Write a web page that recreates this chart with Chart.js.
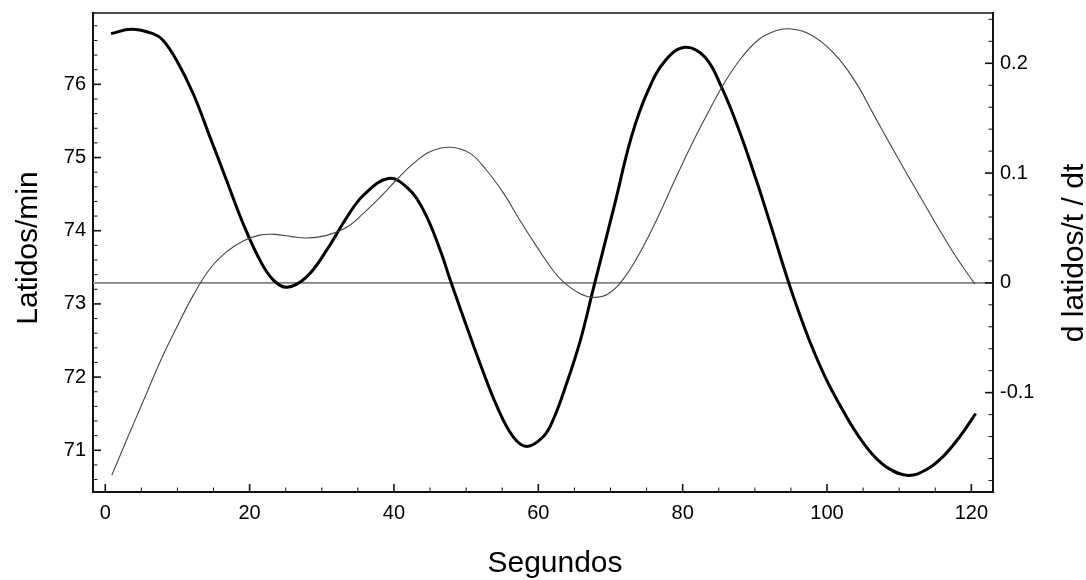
<!DOCTYPE html>
<html>
<head>
<meta charset="utf-8">
<script src="https://cdn.jsdelivr.net/npm/chart.js@4.4.1/dist/chart.umd.min.js"></script>
<style>
  body { margin: 0; background: #fff; }
  #wrap { width: 1086px; height: 580px; }
</style>
</head>
<body>
<div id="wrap"><canvas id="hrChart" width="1086" height="580"></canvas></div>
<script>
// Frecuencia cardiaca (eje izquierdo)
const segundosLat = [0.9, 3.0, 5.3, 7.6, 9.9, 12.2, 14.5, 16.8, 19.1, 21.4, 23.5, 25.8, 27.9, 30.8, 33.5, 35.8, 38.1,
  40.4, 42.7, 45.0, 47.8, 50.5, 52.8, 55.2, 57.4, 59.8, 62.1, 63.6, 65.6, 67.6, 69.7, 72.0, 74.3, 76.6, 78.9,
  81.3, 83.6, 85.9, 88.2, 90.5, 92.8, 94.7, 97.1, 99.5, 101.8, 104.1, 106.4, 108.7, 111.0, 113.3, 115.6, 117.9, 120.5];
const latidos = [70.66, 71.15, 71.68, 72.21, 72.68, 73.12, 73.48, 73.71, 73.86, 73.94, 73.95, 73.92, 73.90, 73.94, 74.05, 74.24, 74.46,
  74.70, 74.92, 75.08, 75.14, 75.06, 74.83, 74.51, 74.15, 73.78, 73.45, 73.29, 73.15, 73.09, 73.14, 73.37, 73.74, 74.19, 74.69,
  75.19, 75.63, 76.04, 76.37, 76.61, 76.73, 76.76, 76.71, 76.56, 76.33, 76.01, 75.60, 75.19, 74.79, 74.40, 74.01, 73.64, 73.27];

// Derivada (eje derecho)
const segundosDer = [0.8, 3.6, 6.6, 8.0, 9.9, 12.2, 14.5, 16.8, 19.1, 21.4, 23.3, 25.2, 27.9, 30.7, 33.5, 35.8, 39.2,
  41.8, 44.1, 46.4, 47.8, 49.6, 51.9, 54.3, 56.5, 58.4, 60.7, 62.1, 63.9, 65.8, 67.6, 70.6, 72.9, 75.2, 77.6, 80.3,
  83.1, 85.4, 87.7, 90.2, 92.1, 94.7, 96.2, 97.9, 99.8, 101.8, 104.1, 106.4, 108.7, 111.3, 113.8, 116.1, 118.4, 120.6];
const derivada = [0.227, 0.231, 0.227, 0.221, 0.2025, 0.172, 0.133, 0.0935, 0.054, 0.021, 0.0025, -0.004, 0.0055, 0.030, 0.060, 0.080, 0.095,
  0.087, 0.066, 0.030, 0.0025, -0.031, -0.073, -0.113, -0.140, -0.149, -0.140, -0.124, -0.092, -0.053, -0.006, 0.072, 0.133, 0.175, 0.2025, 0.2146,
  0.2055, 0.178, 0.141, 0.0936, 0.0546, 0.0, -0.0285, -0.058, -0.0865, -0.1115, -0.137, -0.157, -0.1697, -0.1754, -0.170, -0.158, -0.140, -0.119];

// Marcas de los ejes
const xTicks = [0, 20, 40, 60, 80, 100, 120];
const yTicks = [71, 72, 73, 74, 75, 76];
const y2Ticks = [-0.1, 0, 0.1, 0.2];
const xMinor = 5, yMinor = 0.2, y2Minor = 0.02;

const FONT = "'Liberation Sans', Arial, Helvetica, sans-serif";

function toPoints(xs, ys) {
  return xs.map((x, i) => ({ x: x, y: ys[i] }));
}

// keep the plot box where the reference has it
function noScalePadding(scale) {
  scale.paddingTop = 0;
  scale.paddingBottom = 0;
  scale.paddingLeft = 0;
  scale.paddingRight = 0;
}

// inward tick marks, zero line, frame and axis titles
const decorPlugin = {
  id: 'decor',
  beforeDatasetsDraw: (chart) => {
    const { ctx, chartArea: { left, right }, scales } = chart;
    const y0 = scales.y2.getPixelForValue(0);
    ctx.save();
    ctx.strokeStyle = '#808080';
    ctx.lineWidth = 1.6;
    ctx.beginPath();
    ctx.moveTo(left, y0);
    ctx.lineTo(right, y0);
    ctx.stroke();
    ctx.restore();
  },
  afterDraw: (chart) => {
    const { ctx, chartArea: { left, right, top, bottom }, scales } = chart;
    ctx.save();
    ctx.strokeStyle = '#111';

    const marks = (scale, step, majors, draw) => {
      const lo = Math.ceil(scale.min / step - 1e-6);
      const hi = Math.floor(scale.max / step + 1e-6);
      for (let k = lo; k <= hi; k++) {
        const v = k * step;
        const isMajor = majors.some(m => Math.abs(m - v) < step / 10);
        draw(scale.getPixelForValue(v), isMajor);
      }
    };
    // bottom
    marks(scales.x, xMinor, xTicks, (p, major) => {
      ctx.lineWidth = major ? 1.6 : 1;
      ctx.beginPath();
      ctx.moveTo(p, bottom);
      ctx.lineTo(p, bottom - (major ? 8 : 4.5));
      ctx.stroke();
    });
    // left
    marks(scales.y, yMinor, yTicks, (p, major) => {
      ctx.lineWidth = major ? 1.6 : 1;
      ctx.beginPath();
      ctx.moveTo(left, p);
      ctx.lineTo(left + (major ? 8 : 4.5), p);
      ctx.stroke();
    });
    // right
    marks(scales.y2, y2Minor, y2Ticks, (p, major) => {
      ctx.lineWidth = major ? 1.6 : 1;
      ctx.beginPath();
      ctx.moveTo(right, p);
      ctx.lineTo(right - (major ? 8 : 4.5), p);
      ctx.stroke();
    });

    // top frame line
    ctx.lineWidth = 1.5;
    ctx.beginPath();
    ctx.moveTo(left, top);
    ctx.lineTo(right, top);
    ctx.stroke();

    // axis titles
    ctx.fillStyle = '#000';
    ctx.font = `30px ${FONT}`;
    ctx.textAlign = 'center';
    ctx.textBaseline = 'alphabetic';
    ctx.fillText('Segundos', 555, 572);

    ctx.save();
    ctx.translate(37, 248);
    ctx.rotate(-Math.PI / 2);
    ctx.fillText('Latidos/min', 0, 0);
    ctx.restore();

    ctx.save();
    ctx.translate(1083, 253);
    ctx.rotate(-Math.PI / 2);
    ctx.fillText('d latidos/t / dt', 0, 0);
    ctx.restore();

    ctx.restore();
  }
};

const tickFont = { family: FONT, size: 20 };

const ctx = document.getElementById('hrChart').getContext('2d');
const hrChart = new Chart(ctx, {
  type: 'line',
  data: {
    datasets: [{
      label: 'Latidos/min',
      data: toPoints(segundosLat, latidos),
      yAxisID: 'y',
      borderColor: '#454545',
      borderWidth: 1.1,
      pointRadius: 0,
      tension: 0.4,
      fill: false
    }, {
      label: 'd latidos/t / dt',
      data: toPoints(segundosDer, derivada),
      yAxisID: 'y2',
      borderColor: '#000',
      borderWidth: 3,
      pointRadius: 0,
      tension: 0.4,
      fill: false
    }]
  },
  options: {
    responsive: false,
    devicePixelRatio: 1,
    animation: false,
    events: [],
    layout: { padding: { top: 13, left: 0, right: 0, bottom: 0 } },
    plugins: {
      legend: { display: false },
      tooltip: { enabled: false }
    },
    scales: {
      x: {
        type: 'linear',
        min: -1.7,
        max: 123.0,
        afterBuildTicks: (scale) => { scale.ticks = xTicks.map(v => ({ value: v })); },
        afterFit: (scale) => { scale.height = 88; noScalePadding(scale); },
        grid: { display: false, drawTicks: false },
        border: { display: true, color: '#111', width: 2 },
        ticks: { font: tickFont, color: '#000', padding: 9, maxRotation: 0, autoSkip: false }
      },
      y: {
        position: 'left',
        min: 70.43,
        max: 76.975,
        afterBuildTicks: (scale) => { scale.ticks = yTicks.map(v => ({ value: v })); },
        afterFit: (scale) => { scale.width = 93; noScalePadding(scale); },
        grid: { display: false, drawTicks: false },
        border: { display: true, color: '#111', width: 2 },
        ticks: { font: tickFont, color: '#000', padding: 7 }
      },
      y2: {
        position: 'right',
        min: -0.1905,
        max: 0.2458,
        afterBuildTicks: (scale) => { scale.ticks = y2Ticks.map(v => ({ value: v })); },
        afterFit: (scale) => { scale.width = 93; noScalePadding(scale); },
        grid: { display: false, drawTicks: false },
        border: { display: true, color: '#111', width: 2 },
        ticks: {
          font: tickFont, color: '#000', padding: 7,
          callback: (v) => String(Math.round(v * 10) / 10)
        }
      }
    }
  },
  plugins: [decorPlugin]
});
</script>
</body>
</html>
